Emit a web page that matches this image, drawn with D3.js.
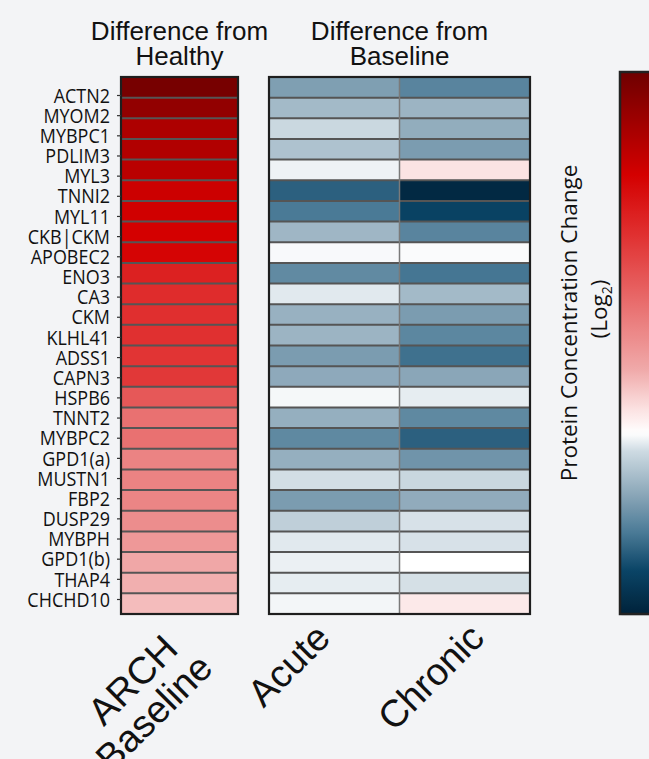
<!DOCTYPE html>
<html>
<head>
<meta charset="utf-8">
<script src="https://cdn.jsdelivr.net/npm/d3@7"></script>
<style>
  html, body { margin: 0; padding: 0; background: #f3f4f6; }
  svg { display: block; }
</style>
</head>
<body>
<svg id="chart" width="649" height="759"></svg>
<script>
// ---------------- data ----------------
const genes = ["ACTN2","MYOM2","MYBPC1","PDLIM3","MYL3","TNNI2","MYL11","CKB|CKM","APOBEC2",
  "ENO3","CA3","CKM","KLHL41","ADSS1","CAPN3","HSPB6","TNNT2","MYBPC2","GPD1(a)","MUSTN1",
  "FBP2","DUSP29","MYBPH","GPD1(b)","THAP4","CHCHD10"];

const archBaseline = [3.9, 3.6, 3.3, 3.25, 3.15, 2.95, 2.9, 2.86, 2.8, 2.4, 2.25, 2.22, 2.2,
  2.15, 2.1, 1.7, 1.4, 1.4, 1.17, 1.17, 1.15, 1.05, 0.92, 0.74, 0.66, 0.56];

const acute = [-0.75, -0.5, -0.22, -0.42, -0.07, -1.3, -1.1, -0.53, -0.03, -0.95, -0.12, -0.58,
  -0.55, -0.78, -0.65, -0.04, -0.6, -0.96, -0.6, -0.18, -0.78, -0.3, -0.12, -0.08, -0.1, -0.05];

const chronic = [-1.0, -0.55, -0.62, -0.78, 0.25, -1.9, -1.55, -1.0, -0.02, -1.13, -0.5, -0.78,
  -0.98, -1.17, -0.68, -0.1, -0.96, -1.3, -0.85, -0.23, -0.63, -0.16, -0.16, 0.0, -0.17, 0.2];

const leftColumns = ["ARCH Baseline"];
const leftLabelLines = ["ARCH", "Baseline"];
const rightColumns = ["Acute", "Chronic"];
const titleLeft = ["Difference from", "Healthy"];
const titleRight = ["Difference from", "Baseline"];

// colour scale stops (log2 values)
const colorDomain = [4, 2.86, 2.2, 1.48, 0.7, 0.28, 0, -0.2, -0.68, -1.1, -1.52, -2];
const colorRange = ["#6e0000","#d40000","#e03030","#e86a6a","#f0aaaa","#fbe0e0","#ffffff",
  "#cddae2","#8aa6b8","#4a7a96","#0a4466","#00223a"];
const colorExtent = [-2, 4];

// ---------------- drawing ----------------
(function () {
const svg = d3.select("#chart");
const color = d3.scaleLinear().domain(colorDomain).range(colorRange).interpolate(d3.interpolateRgb).clamp(true);

const yTop = 77, yBottom = 614;
const y = d3.scaleBand().domain(genes).range([yTop, yBottom]).paddingInner(0).paddingOuter(0);
const yLab = d3.scalePoint().domain(genes).range([95, 599]);

const xL = d3.scaleBand().domain(leftColumns).range([121, 238]);
const xR = d3.scaleBand().domain(rightColumns).range([269, 530]);

const seriesR = { "Acute": acute, "Chronic": chronic };

// left panel cells
const gL = svg.append("g");
gL.selectAll("rect").data(genes.map((g, i) => ({ g, v: archBaseline[i] })))
  .join("rect")
  .attr("x", xL("ARCH Baseline")).attr("width", xL.bandwidth())
  .attr("y", d => y(d.g)).attr("height", y.bandwidth())
  .attr("fill", d => color(d.v));

// right panel cells
const gR = svg.append("g");
rightColumns.forEach(c => {
  gR.append("g").selectAll("rect").data(genes.map((g, i) => ({ g, v: seriesR[c][i] })))
    .join("rect")
    .attr("x", xR(c)).attr("width", xR.bandwidth())
    .attr("y", d => y(d.g)).attr("height", y.bandwidth())
    .attr("fill", d => color(d.v));
});

// row separator lines
function rowLines(g, x0, x1) {
  g.append("g").selectAll("line").data(genes.slice(1))
    .join("line")
    .attr("x1", x0).attr("x2", x1)
    .attr("y1", d => y(d)).attr("y2", d => y(d))
    .attr("stroke", "#555").attr("stroke-width", 2);
}
rowLines(gL, xL.range()[0], xL.range()[1]);
rowLines(gR, xR.range()[0], xR.range()[1]);

// column separator
gR.append("line")
  .attr("x1", xR("Chronic")).attr("x2", xR("Chronic"))
  .attr("y1", yTop).attr("y2", yBottom)
  .attr("stroke", "#7a7a7a").attr("stroke-width", 1.5);

// outer borders
[[xL, gL], [xR, gR]].forEach(([sc, g]) => {
  g.append("rect")
    .attr("x", sc.range()[0]).attr("y", yTop)
    .attr("width", sc.range()[1] - sc.range()[0]).attr("height", yBottom - yTop)
    .attr("fill", "none").attr("stroke", "#1e1e1e").attr("stroke-width", 2.2);
});

// row labels axis (narrowed humanist face)
const labScaleX = 0.876;
const axis = svg.append("g")
  .attr("transform", `translate(${xL.range()[0]},0)`)
  .call(d3.axisLeft(yLab).tickSize(4).tickPadding(7));
axis.select(".domain").remove();
axis.selectAll(".tick line").attr("stroke", "#333").attr("stroke-width", 1.2);
axis.selectAll(".tick text")
  .attr("font-family", "'Open Sans', sans-serif").attr("font-size", 20.5)
  .attr("fill", "#111").attr("dy", "0.35em")
  .attr("x", -11 / labScaleX)
  .attr("transform", `scale(${labScaleX},1)`);

// titles
function title(lines, cx) {
  const t = svg.append("text")
    .attr("text-anchor", "middle")
    .attr("font-family", "'Liberation Sans', Arial, sans-serif")
    .attr("font-size", 26).attr("fill", "#111");
  lines.forEach((l, i) => t.append("tspan").attr("x", cx).attr("y", 40 + i * 25).text(l));
}
title(titleLeft, (xL.range()[0] + xL.range()[1]) / 2);
title(titleRight, (xR.range()[0] + xR.range()[1]) / 2);

// bottom rotated labels (anchored at their end)
const bfont = "'Liberation Sans', Arial, sans-serif";
const bsize = 38;
const gArch = svg.append("g")
  .attr("transform", `translate(${xL("ARCH Baseline") + xL.bandwidth() / 2 + 0.5},651) rotate(-45)`);
leftLabelLines.forEach((l, i) => {
  gArch.append("text").attr("text-anchor", "end").attr("font-family", bfont)
    .attr("font-size", bsize).attr("fill", "#111")
    .attr("x", i * 11).attr("y", i * 38).text(l);
});

const endShift = { "Acute": -2, "Chronic": 21.5 };
rightColumns.forEach(c => {
  svg.append("text")
    .attr("transform", `translate(${xR(c) + xR.bandwidth() / 2 + endShift[c]},640) rotate(-45)`)
    .attr("text-anchor", "end").attr("font-family", bfont)
    .attr("font-size", bsize).attr("fill", "#111").text(c);
});

// colour bar
const cbTop = 72, cbBottom = 614, cbX = 620;
const defs = svg.append("defs");
const grad = defs.append("linearGradient").attr("id", "cbgrad")
  .attr("x1", 0).attr("x2", 0).attr("y1", 0).attr("y2", 1);
d3.range(0, 101).forEach(i => {
  const v = colorExtent[1] - (i / 100) * (colorExtent[1] - colorExtent[0]);
  grad.append("stop").attr("offset", `${i}%`).attr("stop-color", color(v));
});
const cbScale = d3.scaleLinear().domain(colorExtent).range([cbBottom, cbTop]);
svg.append("rect")
  .attr("x", cbX + 1.5).attr("y", cbScale(colorExtent[1]) + 1.5)
  .attr("width", 60).attr("height", cbScale(colorExtent[0]) - cbScale(colorExtent[1]))
  .attr("fill", "#c8c8c8").attr("opacity", 0.6);
svg.append("rect")
  .attr("x", cbX).attr("y", cbScale(colorExtent[1]))
  .attr("width", 60).attr("height", cbScale(colorExtent[0]) - cbScale(colorExtent[1]))
  .attr("fill", "url(#cbgrad)").attr("stroke", "#222").attr("stroke-width", 2.5);

// colour bar title
const cfont = "'Open Sans', sans-serif";
svg.append("text")
  .attr("transform", "translate(577,323) rotate(-90)")
  .attr("text-anchor", "middle").attr("font-family", cfont)
  .attr("font-size", 22.5).attr("fill", "#111")
  .text("Protein Concentration Change");
const t2 = svg.append("text")
  .attr("transform", "translate(607,309) rotate(-90)")
  .attr("text-anchor", "middle").attr("font-family", cfont)
  .attr("font-size", 22.5).attr("fill", "#111");
t2.append("tspan").text("(Log");
t2.append("tspan").attr("font-size", 14).attr("dy", 5).text("2");
t2.append("tspan").attr("dy", -5).text(")");
})();
</script>
</body>
</html>
